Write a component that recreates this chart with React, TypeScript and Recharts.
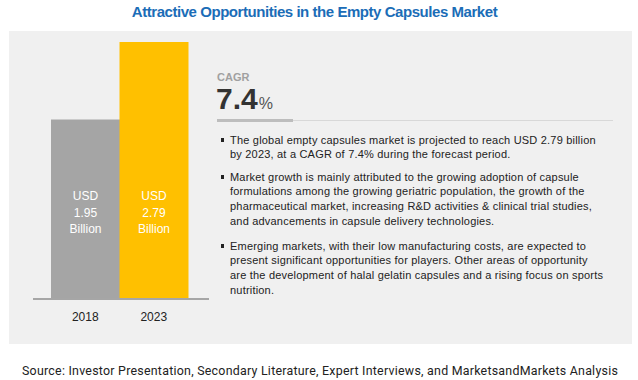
import React from "react";
import { BarChart, Bar, XAxis, YAxis, Cell, LabelList } from "recharts";

const years = ["2018", "2023"];
const values = [1.95, 2.79];
const barColors = ["#a5a5a5", "#ffc000"];
const cagrValue = "7.4";
const titleText = "Attractive Opportunities in the Empty Capsules Market";
const sourceText =
  "Source: Investor Presentation, Secondary Literature, Expert Interviews, and MarketsandMarkets Analysis";
const bullet1 = [
  "The global empty capsules market is projected to reach USD 2.79 billion",
  "by 2023, at a CAGR of 7.4% during the forecast period.",
];
const bullet2 = [
  "Market growth is mainly attributed to the growing adoption of capsule",
  "formulations among the growing geriatric population, the growth of the",
  "pharmaceutical market, increasing R&D activities & clinical trial studies,",
  "and advancements in capsule delivery technologies.",
];
const bullet3 = [
  "Emerging markets, with their low manufacturing costs, are expected to",
  "present significant opportunities for players. Other areas of opportunity",
  "are the development of halal gelatin capsules and a rising focus on sports",
  "nutrition.",
];

const data = years.map((y, i) => ({ year: y, value: values[i] }));

const bodyFont = "'Liberation Sans', Arial, sans-serif";

const BarLabel = (props: any) => {
  const { x, y, width, height, value } = props;
  const cx = x + width / 2;
  const bottom = y + height;
  const lines = ["USD", ` ${value.toFixed(2)}`, "Billion"];
  const offs = [99, 82, 66];
  return (
    <g>
      {lines.map((t, i) => (
        <text
          key={i}
          x={cx}
          y={bottom - offs[i]}
          textAnchor="middle"
          fill="#ffffff"
          fontSize={12}
          fontFamily={bodyFont}
        >
          {t}
        </text>
      ))}
    </g>
  );
};

const Bullet = ({ lines, top }: { lines: string[]; top: number }) => (
  <div style={{ position: "absolute", left: 220, top, width: 410 }}>
    <div
      style={{
        position: "absolute",
        left: 1,
        top: 5,
        width: 3,
        height: 4,
        background: "#222",
      }}
    />
    <div
      style={{
        position: "absolute",
        left: 10,
        top: 0,
        fontFamily: bodyFont,
        fontSize: 11,
        letterSpacing: 0.2,
        lineHeight: "14.8px",
        color: "#222",
        whiteSpace: "nowrap",
      }}
    >
      {lines.map((l, i) => (
        <div key={i}>{l}</div>
      ))}
    </div>
  </div>
);

export default function App() {
  return (
    <div
      style={{
        position: "absolute",
        left: 0,
        top: 0,
        width: 638,
        height: 380,
        background: "#ffffff",
        overflow: "hidden",
      }}
    >
      <div
        style={{
          position: "absolute",
          left: 0,
          top: 3,
          width: 629,
          textAlign: "center",
          fontFamily: "'Liberation Sans Narrow', 'Arial Narrow', 'Liberation Sans', sans-serif",
          fontWeight: "bold",
          fontSize: 15,
          color: "#1b6db7",
          letterSpacing: -0.45,
        }}
      >
        {titleText}
      </div>
      <div
        style={{
          position: "absolute",
          left: 9,
          top: 31,
          width: 623,
          height: 313,
          background: "#f0f0f0",
        }}
      />
      <div style={{ position: "absolute", left: 0, top: 0 }}>
        <BarChart
          width={220}
          height={344}
          data={data}
          margin={{ top: 42, right: 11, bottom: 15, left: 33 }}
          barCategoryGap={0}
        >
          <YAxis hide domain={[0, "dataMax"]} />
          <XAxis
            dataKey="year"
            padding={{ left: 18, right: 21 }}
            tickLine={false}
            tickMargin={7}
            axisLine={{ stroke: "#a6a6a6", strokeWidth: 2 }}
            tick={{ fill: "#222", fontSize: 12, fontFamily: bodyFont }}
            height={30}
          />
          <Bar dataKey="value" isAnimationActive={false}>
            {data.map((d, i) => (
              <Cell key={d.year} fill={barColors[i]} />
            ))}
            <LabelList dataKey="value" content={BarLabel} />
          </Bar>
        </BarChart>
      </div>
      <div
        style={{
          position: "absolute",
          left: 217,
          top: 71,
          fontFamily: bodyFont,
          fontWeight: "bold",
          fontSize: 11,
          color: "#a0a0a0",
        }}
      >
        CAGR
      </div>
      <div
        style={{
          position: "absolute",
          left: 216,
          top: 82,
          fontFamily: bodyFont,
          color: "#333",
          whiteSpace: "nowrap",
        }}
      >
        <span style={{ fontSize: 30, fontWeight: "bold" }}>{cagrValue}</span>
        <span style={{ fontSize: 16, color: "#555", marginLeft: 1 }}>%</span>
      </div>
      <div
        style={{
          position: "absolute",
          left: 217,
          top: 120,
          width: 396,
          height: 1,
          background: "#d8d8d8",
        }}
      />
      <div
        style={{
          position: "absolute",
          left: 217,
          top: 119,
          width: 76,
          height: 3,
          background: "#bdbdbd",
        }}
      />
      <Bullet lines={bullet1} top={132.6} />
      <Bullet lines={bullet2} top={169.6} />
      <Bullet lines={bullet3} top={238.6} />
      <div
        style={{
          position: "absolute",
          left: 22,
          top: 363,
          fontFamily: "Roboto, 'Liberation Sans', sans-serif",
          fontSize: 12.4,
          letterSpacing: 0.25,
          color: "#222",
          whiteSpace: "nowrap",
        }}
      >
        {sourceText}
      </div>
    </div>
  );
}
